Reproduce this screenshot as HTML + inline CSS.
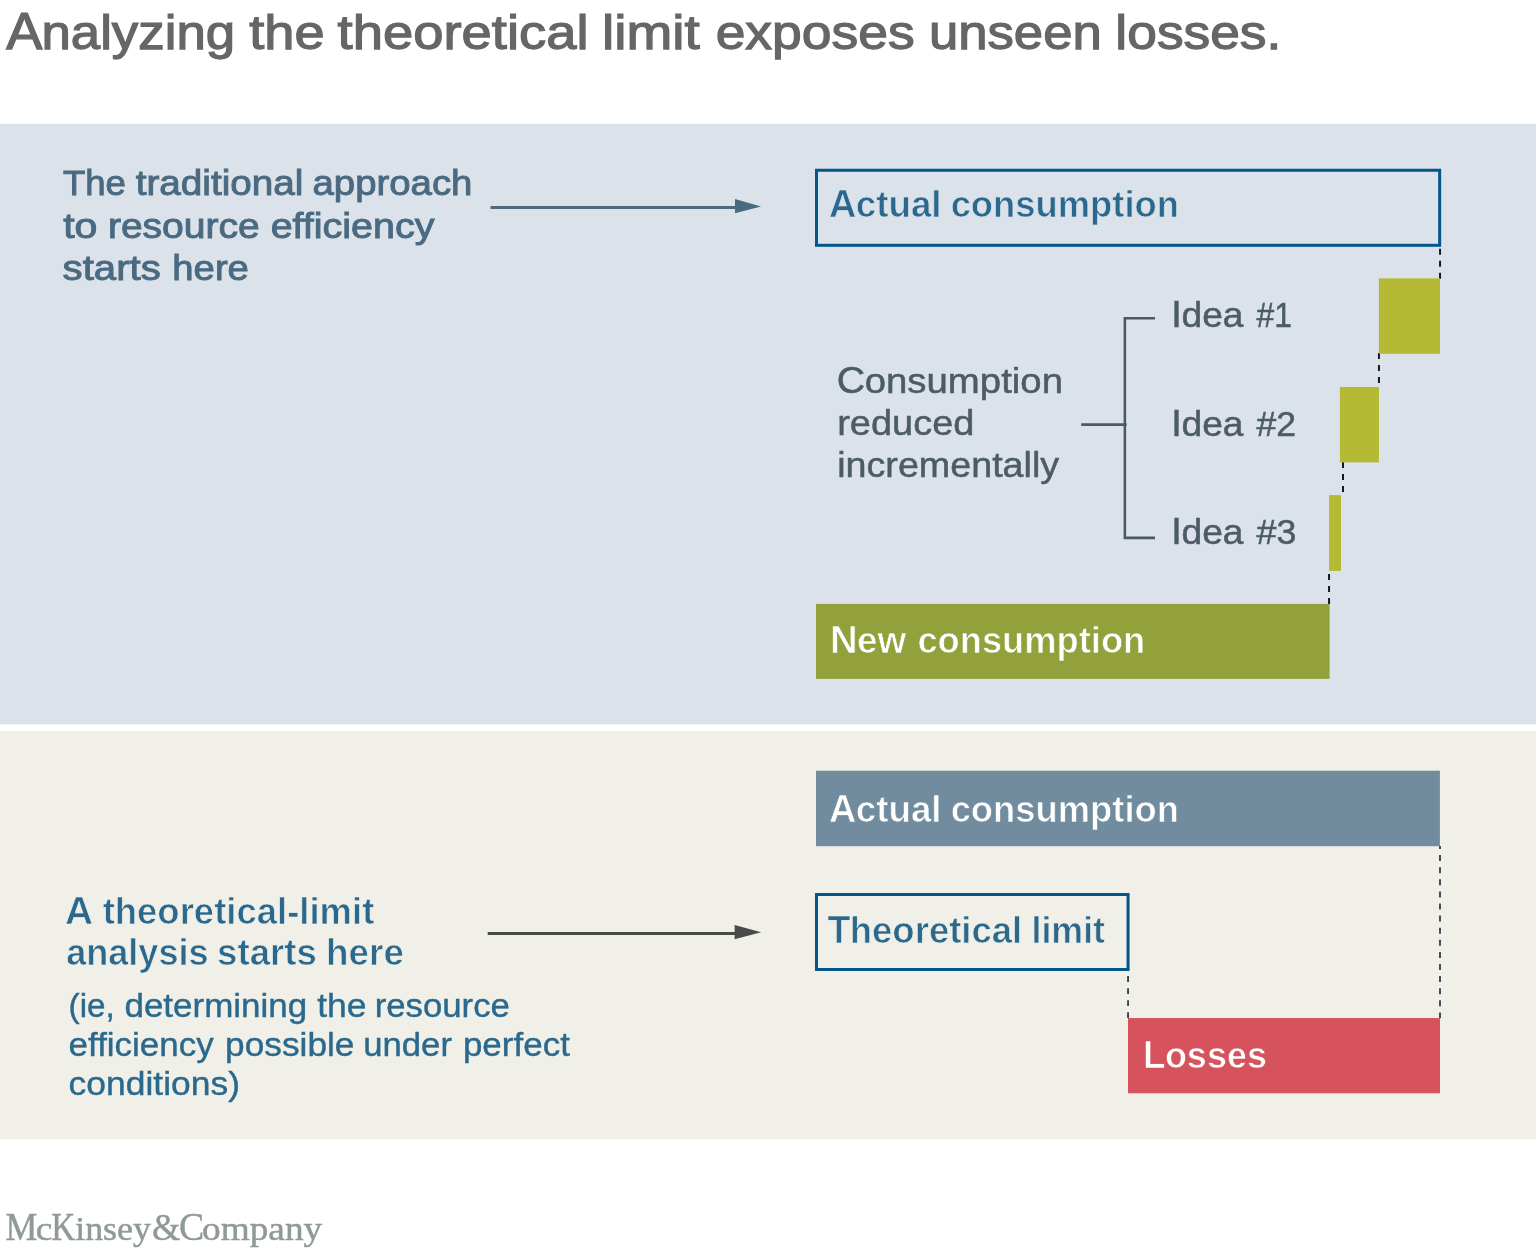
<!DOCTYPE html>
<html lang="en">
<head>
<meta charset="utf-8">
<title>Analyzing the theoretical limit exposes unseen losses</title>
<style>
html,body{margin:0;padding:0;background:#fff;}
body{width:1536px;height:1259px;overflow:hidden;}
svg{display:block;}
text{font-family:"Liberation Sans","Helvetica Neue",Helvetica,Arial,sans-serif;stroke-linejoin:miter;stroke-miterlimit:3;white-space:pre;}
text.serif{font-family:"Liberation Serif","Times New Roman",serif;}
</style>
</head>
<body>
<svg width="1536" height="1259" viewBox="0 0 1536 1259">
<!-- panels -->
<rect x="0" y="123.75" width="1536" height="600.6" fill="#dbe2ea"/>
<rect x="0" y="731.1" width="1536" height="408.2" fill="#f0f0e8"/>

<!-- top panel: arrow -->
<rect x="490.5" y="206" width="246" height="3" fill="#4a6a80"/>
<polygon points="735,199 761,206.5 735,213.2" fill="#4a6a80"/>

<!-- top panel: actual consumption outline box -->
<rect x="816.5" y="170.25" width="623.15" height="75.05" fill="none" stroke="#03568c" stroke-width="3"/>

<!-- dashed connectors (top) -->
<g stroke="#131820" stroke-width="2" stroke-dasharray="6 6" fill="none">
<line x1="1440.05" y1="248.8" x2="1440.05" y2="279"/>
<line x1="1378.95" y1="353.1" x2="1378.95" y2="387"/>
<line x1="1343" y1="462.05" x2="1343" y2="495"/>
<line x1="1329.05" y1="574.1" x2="1329.05" y2="604"/>
</g>

<!-- waterfall boxes -->
<rect x="1378.9" y="278.4" width="61.1" height="75.4" fill="#b4ba34"/>
<rect x="1339.9" y="387" width="39.05" height="75.4" fill="#b4ba34"/>
<rect x="1329.1" y="495.1" width="11.9" height="75.8" fill="#b4ba34"/>
<rect x="816" y="603.95" width="513.6" height="74.9" fill="#92a13b"/>

<!-- bracket -->
<g stroke="#4a5963" stroke-width="2.55" fill="none">
<polyline points="1155,318.3 1124.85,318.3 1124.85,537.85 1155,537.85"/>
<line x1="1081.2" y1="424.6" x2="1126.6" y2="424.6" stroke-width="2.9"/>
</g>

<!-- dashed connectors (bottom) -->
<g stroke="#38464f" stroke-width="1.9" fill="none">
<line x1="1440" y1="846.1" x2="1440" y2="1018.3" stroke-dasharray="6 6.1" stroke-dashoffset="3.1"/>
<line x1="1128.05" y1="976.1" x2="1128.05" y2="1018.3" stroke-dasharray="5.8 6.25"/>
</g>

<!-- bottom panel bars -->
<rect x="816" y="770.7" width="623.9" height="75.5" fill="#718c9f"/>
<rect x="816.5" y="894.5" width="311.55" height="75" fill="none" stroke="#03568c" stroke-width="3"/>
<rect x="1128" y="1018.05" width="312" height="75.25" fill="#d6535d"/>

<!-- bottom arrow -->
<rect x="487.7" y="932" width="248" height="3" fill="#4a4a4a"/>
<polygon points="734.6,925 761.2,932.2 734.6,939.3" fill="#4a4a4a"/>

<!-- text -->
<text y="49.00" font-size="49.0" fill="#666666" stroke="#666666" stroke-width="1.25"><tspan x="6.23" font-size="51.0" textLength="36.09" lengthAdjust="spacingAndGlyphs">A</tspan><tspan x="41.45" textLength="193.65" lengthAdjust="spacingAndGlyphs">nalyzing</tspan> <tspan x="249.20" textLength="75.38" lengthAdjust="spacingAndGlyphs">the</tspan> <tspan x="337.60" textLength="251.00" lengthAdjust="spacingAndGlyphs">theoretical</tspan> <tspan x="602.00" textLength="97.69" lengthAdjust="spacingAndGlyphs">limit</tspan> <tspan x="715.68" textLength="198.92" lengthAdjust="spacingAndGlyphs">exposes</tspan> <tspan x="928.94" textLength="172.83" lengthAdjust="spacingAndGlyphs">unseen</tspan> <tspan x="1115.39" textLength="165.98" lengthAdjust="spacingAndGlyphs">losses.</tspan></text>
<text y="195.00" font-size="34.7" fill="#4a6a81" stroke="#4a6a81" stroke-width="0.95"><tspan x="62.92" font-size="35.4" textLength="22.39" lengthAdjust="spacingAndGlyphs">T</tspan><tspan x="85.20" textLength="40.72" lengthAdjust="spacingAndGlyphs">he</tspan> <tspan x="135.76" textLength="167.59" lengthAdjust="spacingAndGlyphs">traditional</tspan> <tspan x="312.56" textLength="159.88" lengthAdjust="spacingAndGlyphs">approach</tspan></text>
<text y="238.00" font-size="34.7" fill="#4a6a81" stroke="#4a6a81" stroke-width="0.95"><tspan x="63.16" textLength="34.30" lengthAdjust="spacingAndGlyphs">to</tspan> <tspan x="107.93" textLength="151.80" lengthAdjust="spacingAndGlyphs">resource</tspan> <tspan x="270.66" textLength="163.80" lengthAdjust="spacingAndGlyphs">efficiency</tspan></text>
<text y="280.00" font-size="34.7" fill="#4a6a81" stroke="#4a6a81" stroke-width="0.95"><tspan x="62.57" textLength="98.24" lengthAdjust="spacingAndGlyphs">starts</tspan> <tspan x="172.37" textLength="76.53" lengthAdjust="spacingAndGlyphs">here</tspan></text>
<text y="217.00" font-size="36.8" font-weight="bold" fill="#2a698d" stroke="#dbe2ea" stroke-width="0.7"><tspan x="829.06" font-size="38.3" textLength="27.33" lengthAdjust="spacingAndGlyphs">A</tspan><tspan x="855.72" textLength="85.83" lengthAdjust="spacingAndGlyphs">ctual</tspan> <tspan x="950.65" textLength="228.38" lengthAdjust="spacingAndGlyphs">consumption</tspan></text>
<text y="393.00" font-size="35.8" fill="#4c5b65" stroke="#4c5b65" stroke-width="0.5"><tspan x="836.89" font-size="37.2" textLength="28.37" lengthAdjust="spacingAndGlyphs">C</tspan><tspan x="864.68" textLength="198.36" lengthAdjust="spacingAndGlyphs">onsumption</tspan></text>
<text y="435.00" font-size="35.8" fill="#4c5b65" stroke="#4c5b65" stroke-width="0.5"><tspan x="837.19" textLength="137.26" lengthAdjust="spacingAndGlyphs">reduced</tspan></text>
<text y="477.00" font-size="35.8" fill="#4c5b65" stroke="#4c5b65" stroke-width="0.5"><tspan x="837.22" textLength="221.93" lengthAdjust="spacingAndGlyphs">incrementally</tspan></text>
<text y="327.00" font-size="35.8" fill="#4c5b65" stroke="#4c5b65" stroke-width="0.5"><tspan x="1171.13" font-size="37.2" textLength="10.57" lengthAdjust="spacingAndGlyphs">I</tspan><tspan x="1181.47" textLength="62.05" lengthAdjust="spacingAndGlyphs">dea</tspan> <tspan x="1256.58" textLength="35.40" lengthAdjust="spacingAndGlyphs">#1</tspan></text>
<text y="436.00" font-size="35.8" fill="#4c5b65" stroke="#4c5b65" stroke-width="0.5"><tspan x="1171.13" font-size="37.2" textLength="10.57" lengthAdjust="spacingAndGlyphs">I</tspan><tspan x="1181.47" textLength="62.05" lengthAdjust="spacingAndGlyphs">dea</tspan> <tspan x="1256.59" textLength="39.50" lengthAdjust="spacingAndGlyphs">#2</tspan></text>
<text y="544.00" font-size="35.8" fill="#4c5b65" stroke="#4c5b65" stroke-width="0.5"><tspan x="1171.13" font-size="37.2" textLength="10.57" lengthAdjust="spacingAndGlyphs">I</tspan><tspan x="1181.47" textLength="62.05" lengthAdjust="spacingAndGlyphs">dea</tspan> <tspan x="1256.59" textLength="39.75" lengthAdjust="spacingAndGlyphs">#3</tspan></text>
<text y="653.00" font-size="36.8" font-weight="bold" fill="#ffffff" stroke="#92a13b" stroke-width="0.7"><tspan x="830.12" font-size="38.3" textLength="27.64" lengthAdjust="spacingAndGlyphs">N</tspan><tspan x="857.07" textLength="49.24" lengthAdjust="spacingAndGlyphs">ew</tspan> <tspan x="917.40" textLength="227.86" lengthAdjust="spacingAndGlyphs">consumption</tspan></text>
<text y="822.00" font-size="36.8" font-weight="bold" fill="#ffffff" stroke="#718c9f" stroke-width="0.7"><tspan x="829.06" font-size="38.3" textLength="27.33" lengthAdjust="spacingAndGlyphs">A</tspan><tspan x="855.72" textLength="85.83" lengthAdjust="spacingAndGlyphs">ctual</tspan> <tspan x="950.65" textLength="228.38" lengthAdjust="spacingAndGlyphs">consumption</tspan></text>
<text y="924.00" font-size="36.8" font-weight="bold" fill="#2a698d" stroke="#f0f0e8" stroke-width="0.7"><tspan x="65.01" font-size="38.3" textLength="28.10" lengthAdjust="spacingAndGlyphs">A</tspan> <tspan x="102.65" textLength="271.69" lengthAdjust="spacingAndGlyphs">theoretical-limit</tspan></text>
<text y="965.00" font-size="36.8" font-weight="bold" fill="#2a698d" stroke="#f0f0e8" stroke-width="0.7"><tspan x="66.18" textLength="142.35" lengthAdjust="spacingAndGlyphs">analysis</tspan> <tspan x="217.08" textLength="99.72" lengthAdjust="spacingAndGlyphs">starts</tspan> <tspan x="326.11" textLength="77.80" lengthAdjust="spacingAndGlyphs">here</tspan></text>
<text y="1017.00" font-size="32.8" fill="#2a698d" stroke="#2a698d" stroke-width="0.4"><tspan x="68.63" textLength="46.18" lengthAdjust="spacingAndGlyphs">(ie,</tspan> <tspan x="124.45" textLength="182.72" lengthAdjust="spacingAndGlyphs">determining</tspan> <tspan x="317.21" textLength="49.33" lengthAdjust="spacingAndGlyphs">the</tspan> <tspan x="374.78" textLength="135.04" lengthAdjust="spacingAndGlyphs">resource</tspan></text>
<text y="1056.00" font-size="32.8" fill="#2a698d" stroke="#2a698d" stroke-width="0.4"><tspan x="68.64" textLength="145.09" lengthAdjust="spacingAndGlyphs">efficiency</tspan> <tspan x="225.11" textLength="129.33" lengthAdjust="spacingAndGlyphs">possible</tspan> <tspan x="363.27" textLength="88.69" lengthAdjust="spacingAndGlyphs">under</tspan> <tspan x="462.93" textLength="106.93" lengthAdjust="spacingAndGlyphs">perfect</tspan></text>
<text y="1095.00" font-size="32.8" fill="#2a698d" stroke="#2a698d" stroke-width="0.4"><tspan x="68.63" textLength="171.37" lengthAdjust="spacingAndGlyphs">conditions)</tspan></text>
<text y="943.00" font-size="36.8" font-weight="bold" fill="#2a698d" stroke="#f0f0e8" stroke-width="0.7"><tspan x="827.41" font-size="38.3" textLength="22.93" lengthAdjust="spacingAndGlyphs">T</tspan><tspan x="849.76" textLength="172.51" lengthAdjust="spacingAndGlyphs">heoretical</tspan> <tspan x="1031.44" textLength="73.61" lengthAdjust="spacingAndGlyphs">limit</tspan></text>
<text y="1068.00" font-size="36.8" font-weight="bold" fill="#ffffff" stroke="#d6535d" stroke-width="0.7"><tspan x="1143.03" font-size="38.3" textLength="22.45" lengthAdjust="spacingAndGlyphs">L</tspan><tspan x="1164.90" textLength="102.02" lengthAdjust="spacingAndGlyphs">osses</tspan></text>
<text class="serif" y="1240.00" font-size="34" fill="#8f9a95" stroke="#8f9a95" stroke-width="0.45"><tspan x="5.47" font-size="39" textLength="31.85" lengthAdjust="spacingAndGlyphs">M</tspan><tspan x="35.76" font-size="34" textLength="16.63" lengthAdjust="spacingAndGlyphs">c</tspan><tspan x="51.23" font-size="39" textLength="23.98" lengthAdjust="spacingAndGlyphs">K</tspan><tspan x="75.16" font-size="34" textLength="75.91" lengthAdjust="spacingAndGlyphs">insey</tspan><tspan x="152.05" font-size="37" textLength="28.22" lengthAdjust="spacingAndGlyphs">&amp;</tspan><tspan x="178.89" font-size="39" textLength="25.19" lengthAdjust="spacingAndGlyphs">C</tspan><tspan x="202.00" font-size="34" textLength="120.19" lengthAdjust="spacingAndGlyphs">ompany</tspan></text>
</svg>
</body>
</html>
